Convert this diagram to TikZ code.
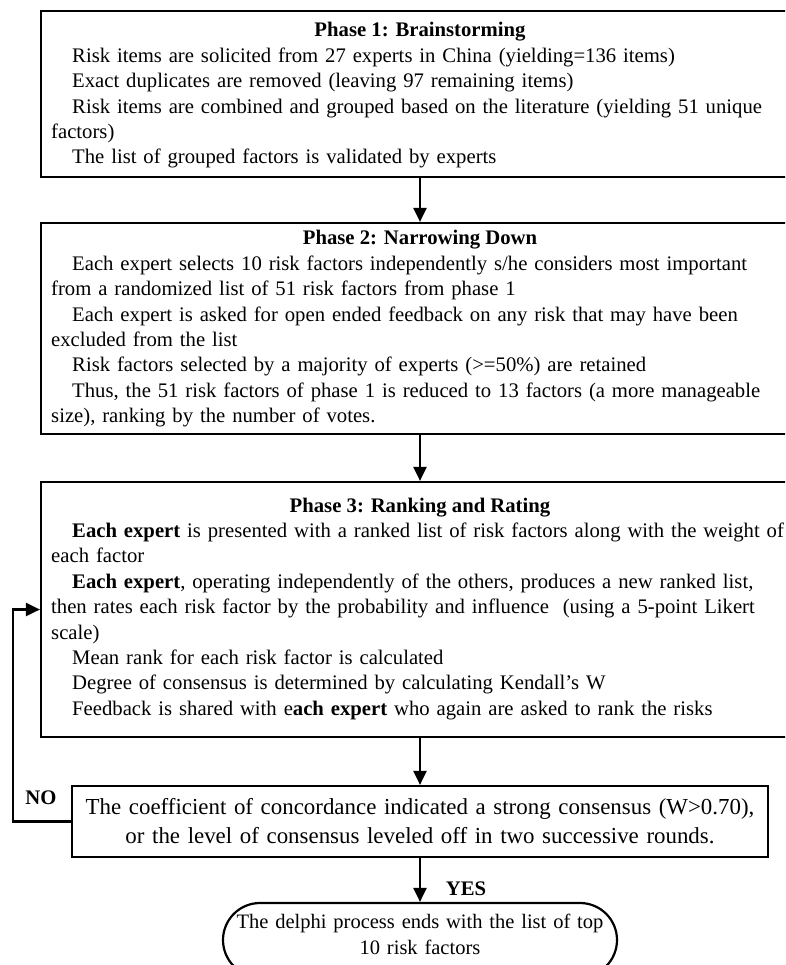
\documentclass[tikz,border=0pt]{standalone}
\usepackage{fontspec}
\setmainfont{Liberation Serif}
\usetikzlibrary{arrows.meta}
\newcommand\bodyfont{\fontsize{20.7}{25.4}\selectfont}
\newcommand\decfont{\fontsize{22.9}{29}\selectfont}
\newcommand\termfont{\fontsize{20.5}{26}\selectfont}
\newcommand\ind{\hspace*{21pt}}
\begin{document}
\begin{tikzpicture}[x=1pt,y=-1pt,
  box/.style={draw, line width=2.2pt, inner sep=0pt},
  head/.style={anchor=base, inner sep=0pt, font=\bodyfont\bfseries},
  body/.style={anchor=base west, inner sep=0pt, text width=760pt, align=left, font=\bodyfont},
  arr/.style={line width=2.2pt, -{Triangle[width=13pt,length=14pt]}},
  lab/.style={anchor=base, inner sep=0pt, font=\fontsize{20.7}{25}\selectfont\bfseries}]
\useasboundingbox (0,0) rectangle (785,965);
\clip (0,0) rectangle (785,965);
% boxes
\node[box, minimum width=758pt, minimum height=166pt] (b1) at (420,94) {};
\node[box, minimum width=758pt, minimum height=211pt] (b2) at (420,328.5) {};
\node[box, minimum width=758pt, minimum height=255pt] (b3) at (420,609.5) {};
\node[box, minimum width=696pt, minimum height=71pt] (dec) at (420,821.5) {};
\node[box, rounded corners=37pt, minimum width=394pt, minimum height=74pt] (term) at (420,940) {};
% headings
\node[head] (h1) at (420,37) {Phase 1: Brainstorming};
\node[head] (h2) at (420,245) {Phase 2: Narrowing Down};
\node[head] (h3) at (420,512) {Phase 3: Ranking and Rating};
% bodies
\node[body] (t1) at (51,62.4) {\ind Risk items are solicited from 27 experts in China (yielding=136 items)\\
\ind Exact duplicates are removed (leaving 97 remaining items)\\
\ind Risk items are combined and grouped based on the literature (yielding 51 unique\\
factors)\\
\ind The list of grouped factors is validated by experts};
\node[body] (t2) at (51,270.4) {\ind Each expert selects 10 risk factors independently s/he considers most important\\
from a randomized list of 51 risk factors from phase 1\\
\ind Each expert is asked for open ended feedback on any risk that may have been\\
excluded from the list\\
\ind Risk factors selected by a majority of experts (>=50\%) are retained\\
\ind Thus, the 51 risk factors of phase 1 is reduced to 13 factors (a more manageable\\
size), ranking by the number of votes.};
\node[body] (t3) at (51,537.4) {\ind\textbf{Each expert} is presented with a ranked list of risk factors along with the weight of\\
each factor\\
\ind\textbf{Each expert}, operating independently of the others, produces a new ranked list,\\
then rates each risk factor by the probability and influence~ (using a 5-point Likert\\
scale)\\
\ind Mean rank for each risk factor is calculated\\
\ind Degree of consensus is determined by calculating Kendall’s W\\
\ind Feedback is shared with e\textbf{ach expert} who again are asked to rank the risks};
\node[anchor=base, inner sep=0pt, text width=690pt, align=center, font=\decfont] (dt) at (420,814)
  {The coefficient of concordance indicated a strong consensus (W>0.70),\\or the level of consensus leveled off in two successive rounds.};
\node[anchor=base, inner sep=0pt, text width=390pt, align=center, font=\termfont] (tt) at (420,928)
  {The delphi process ends with the list of top\\10 risk factors};
% connectors
\draw[arr] (b1.south) -- (b2.north);
\draw[arr] (b2.south) -- (b3.north);
\draw[arr] (b3.south) -- (dec.north);
\draw[arr] (dec.south) -- (term.north);
\coordinate (lp) at (13,609.5);
\draw[arr] (dec.west) -| (lp) -- (b3.west);
% labels
\node[lab] (no) at (41,804) {NO};
\node[lab] (yes) at (466,895) {YES};
\end{tikzpicture}
\end{document}
